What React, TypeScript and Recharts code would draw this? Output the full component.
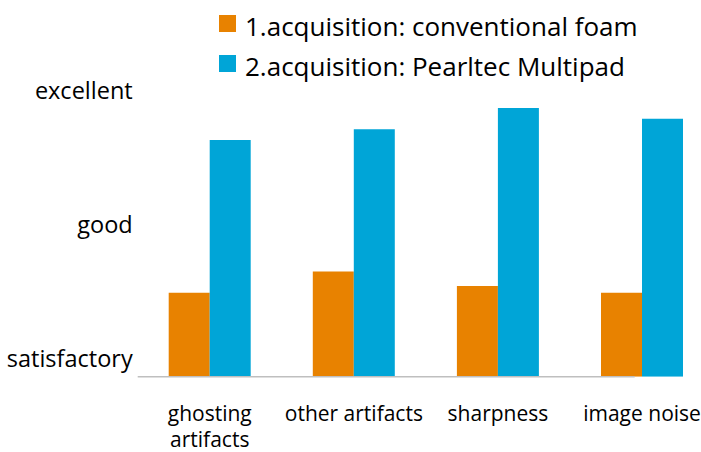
import React from 'react';
import { BarChart, Bar, XAxis, YAxis, Legend } from 'recharts';

const categories = ['ghosting artifacts', 'other artifacts', 'sharpness', 'image noise'];
const conventionalFoam = [1.49, 1.65, 1.54, 1.49];
const pearltecMultipad = [2.63, 2.71, 2.87, 2.79];
const ratingValues = [1, 2, 3];
const ratingLabels = ['satisfactory', 'good', 'excellent'];
const seriesNames = ['1.acquisition: conventional foam', '2.acquisition: Pearltec Multipad'];

const ORANGE = '#E88200';
const BLUE = '#00A5D7';
const FONT = '"Open Sans", Lato, sans-serif';

const data = categories.map((c, i) => ({
  category: c,
  foam: conventionalFoam[i],
  multipad: pearltecMultipad[i],
}));

const splitLabel = (s: string): string[] => {
  if (s.length <= 16) return [s];
  const idx = s.lastIndexOf(' ');
  return idx > 0 ? [s.slice(0, idx), s.slice(idx + 1)] : [s];
};

const CategoryTick = (props: any) => {
  const { x, y, payload } = props;
  const lines = splitLabel(String(payload.value));
  return (
    <text x={x} y={y} textAnchor="middle" fontSize={21} fontFamily={FONT} fill="#000">
      {lines.map((l, i) => (
        <tspan key={i} x={x} dy={i === 0 ? 44 : 26}>
          {l}
        </tspan>
      ))}
    </text>
  );
};

const LegendContent = (props: any) => {
  const { payload } = props;
  return (
    <div style={{ fontFamily: FONT, fontSize: 26, color: '#000' }}>
      {(payload || []).map((p: any, i: number) => (
        <div key={i} style={{ display: 'flex', height: 40, lineHeight: '40px', whiteSpace: 'nowrap' }}>
          <div style={{ width: 17, height: 17, background: p.color, marginTop: 9.4, marginRight: 9 }} />
          <span>{p.value}</span>
        </div>
      ))}
    </div>
  );
};

export default function App() {
  return (
    <div style={{ position: 'absolute', left: 0, top: 0, width: 701, height: 452, overflow: 'hidden', background: '#fff' }}>
      <BarChart
        width={730}
        height={452}
        data={data}
        margin={{ top: 63.7, right: 15.9, left: 7.7, bottom: 30.3 }}
        barCategoryGap={31}
        barGap={0}
      >
        <XAxis
          dataKey="category"
          height={45}
          tickLine={false}
          tickSize={0}
          tickMargin={0}
          interval={0}
          axisLine={{ stroke: '#bfbfbf', strokeWidth: 1.5, strokeDasharray: '497 2000' }}
          tick={<CategoryTick />}
        />
        <YAxis
          width={130}
          type="number"
          domain={[0.864, 3.2]}
          ticks={ratingValues}
          allowDataOverflow
          axisLine={false}
          tickLine={false}
          tickSize={0}
          tickMargin={5}
          tickFormatter={(v: number) => ratingLabels[ratingValues.indexOf(v)] ?? ''}
          tick={{ fontSize: 23.5, fontFamily: FONT, fill: '#000' }}
        />
        <Legend
          layout="vertical"
          align="center"
          verticalAlign="middle"
          content={<LegendContent />}
          wrapperStyle={{ left: 219, top: 5.6, width: 480 }}
        />
        <Bar dataKey="foam" name={seriesNames[0]} fill={ORANGE} isAnimationActive={false} />
        <Bar dataKey="multipad" name={seriesNames[1]} fill={BLUE} isAnimationActive={false} />
      </BarChart>
    </div>
  );
}
